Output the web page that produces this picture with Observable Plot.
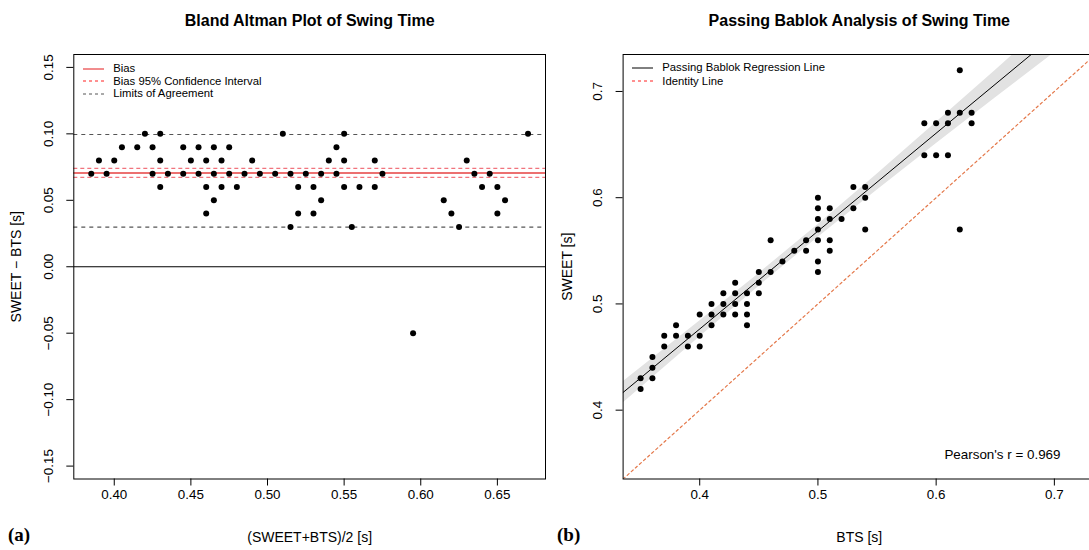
<!DOCTYPE html>
<html><head><meta charset="utf-8">
<script src="https://cdn.jsdelivr.net/npm/d3@7"></script>
<script src="https://cdn.jsdelivr.net/npm/@observablehq/plot@0.6"></script>
<style>
html,body{margin:0;padding:0;background:#fff;overflow:hidden;}
#wrap{position:relative;width:1089px;height:550px;overflow:hidden;font-family:"Liberation Sans",Arial,Helvetica,sans-serif;background:#fff;}
.panel{position:absolute;top:0;height:550px;}
.panel svg{max-width:none !important;}
.tag{position:absolute;font-family:"Liberation Serif","Times New Roman",serif;font-weight:bold;font-size:19px;line-height:20px;}
.leg{position:absolute;font-size:11.3px;line-height:12px;white-space:nowrap;}
</style></head><body><div id="wrap"></div>
<script>
// ---------- Bland Altman data ----------
const baMean = [0.385,0.39,0.395,0.40,0.405,0.415,0.42,0.425,0.425,0.43,0.43,0.43,0.435,0.445,0.445,0.45,0.455,0.455,0.46,0.46,0.46,0.465,0.465,0.465,0.47,0.47,0.475,0.475,0.48,0.485,0.49,0.495,0.505,0.51,0.515,0.515,0.52,0.52,0.525,0.53,0.53,0.535,0.535,0.54,0.545,0.545,0.55,0.55,0.55,0.555,0.56,0.57,0.57,0.575,0.595,0.615,0.62,0.625,0.63,0.635,0.64,0.645,0.65,0.65,0.655,0.67];
const baDiff = [0.07,0.08,0.07,0.08,0.09,0.09,0.10,0.09,0.07,0.10,0.08,0.06,0.07,0.09,0.07,0.08,0.09,0.07,0.08,0.06,0.04,0.09,0.07,0.05,0.08,0.06,0.09,0.07,0.06,0.07,0.08,0.07,0.07,0.10,0.07,0.03,0.06,0.04,0.07,0.06,0.04,0.07,0.05,0.08,0.09,0.07,0.10,0.08,0.06,0.03,0.06,0.08,0.06,0.07,-0.05,0.05,0.04,0.03,0.08,0.07,0.06,0.07,0.06,0.04,0.05,0.10];
const baBias = 0.0705;
const baBiasCI = [0.0672, 0.0740];
const baLoA = [0.0298, 0.0995];
const baXTicks = [0.40,0.45,0.50,0.55,0.60,0.65];
const baYTicks = [-0.15,-0.10,-0.05,0.00,0.05,0.10,0.15];
const baXDomain = [0.3736, 0.6814];
const baYDomain = [-0.1597, 0.1597];

// ---------- Passing Bablok data ----------
const pbBTS =   [0.35,0.35,0.36,0.36,0.36,0.37,0.37,0.38,0.38,0.39,0.39,0.40,0.40,0.40,0.41,0.41,0.41,0.42,0.42,0.42,0.43,0.43,0.43,0.43,0.44,0.44,0.44,0.44,0.45,0.45,0.45,0.46,0.46,0.47,0.48,0.49,0.49,0.50,0.50,0.50,0.50,0.50,0.50,0.50,0.51,0.51,0.51,0.51,0.52,0.53,0.53,0.54,0.54,0.54,0.59,0.59,0.60,0.60,0.61,0.61,0.61,0.62,0.62,0.62,0.63,0.63];
const pbSWEET = [0.43,0.42,0.45,0.44,0.43,0.47,0.46,0.48,0.47,0.47,0.46,0.49,0.47,0.46,0.50,0.49,0.48,0.51,0.50,0.49,0.52,0.51,0.50,0.49,0.51,0.50,0.49,0.48,0.53,0.52,0.51,0.56,0.53,0.54,0.55,0.56,0.55,0.60,0.59,0.58,0.57,0.56,0.54,0.53,0.59,0.58,0.56,0.55,0.58,0.61,0.59,0.61,0.60,0.57,0.67,0.64,0.67,0.64,0.68,0.67,0.64,0.72,0.68,0.57,0.68,0.67];
const pbIntercept = 0.1078;
const pbSlope = 0.9215;
const pbBandX    = [0.3352,0.40,0.45,0.50,0.55,0.60,0.65,0.70,0.7348];
const pbBandLow  = [0.4067,0.4689,0.5165,0.5626,0.6071,0.6507,0.6938,0.7364,0.7659];
const pbBandHigh = [0.4267,0.4839,0.5285,0.5746,0.6221,0.6707,0.7198,0.7694,0.8039];
const pbTicks = [0.4,0.5,0.6,0.7];
const pbDomain = [0.3352, 0.7348];
const pearson = "Pearson's r = 0.969";

const FONT = '"Liberation Sans",Arial,Helvetica,sans-serif';
const TICK = 13.4, LAB = 14, TITLE = 16;
const wrap = document.getElementById("wrap");

// ---------- Panel A ----------
const ba = baMean.map((m,i)=>({m, d: baDiff[i]}));
const plotA = Plot.plot({
  width: 560, height: 550,
  marginLeft: 73.3, marginRight: 15, marginTop: 54, marginBottom: 71.5,
  style: {fontFamily: FONT, fontSize: "12px", background: "white", color: "black"},
  x: {domain: baXDomain},
  y: {domain: baYDomain},
  marks: [
    Plot.ruleY(baLoA, {stroke: "#555", strokeWidth: 1.1, strokeDasharray: "4,4"}),
    Plot.ruleY(baBiasCI, {stroke: "#ee5c66", strokeWidth: 1.3, strokeDasharray: "4,3", strokeOpacity: 0.85}),
    Plot.ruleY([baBias], {stroke: "#ec7070", strokeWidth: 2}),
    Plot.ruleY([0], {stroke: "black", strokeWidth: 1}),
    Plot.dot(ba, {x: "m", y: "d", r: 3, fill: "black", stroke: "none"}),
    Plot.frame({stroke: "black", strokeWidth: 1}),
    Plot.axisX({ticks: baXTicks, tickSize: 7, tickPadding: 3.5, tickFormat: d3.format(".2f"), label: null, fontSize: TICK}),
    Plot.axisY({ticks: baYTicks, tickSize: 7, tickFormat: () => "", label: null}),
    Plot.text(baYTicks, {y: d => d, text: d3.format(".2f"), frameAnchor: "left", dx: -25, rotate: -90, textAnchor: "middle", lineAnchor: "middle", fontSize: TICK}),
    Plot.text(["Bland Altman Plot of Swing Time"], {frameAnchor: "top", dy: -34, textAnchor: "middle", lineAnchor: "middle", fontWeight: "bold", fontSize: TITLE}),
    Plot.text(["(SWEET+BTS)/2 [s]"], {frameAnchor: "bottom", dy: 58.5, textAnchor: "middle", lineAnchor: "middle", fontSize: LAB}),
    Plot.text(["SWEET \u2212 BTS [s]"], {frameAnchor: "left", dx: -57, rotate: -90, textAnchor: "middle", lineAnchor: "middle", fontSize: LAB})
  ]
});
const pa = document.createElement("div"); pa.className = "panel";
pa.style.left = "0px"; pa.style.width = "560px";
pa.appendChild(plotA); wrap.appendChild(pa);

// ---------- Panel B ----------
const pb = pbBTS.map((x,i)=>({x, y: pbSWEET[i]}));
const band = pbBandX.map((x,i)=>({x, lo: pbBandLow[i], hi: pbBandHigh[i]}));
const regLine = pbDomain.map(x => ({x, y: pbIntercept + pbSlope * x}));
const identity = pbDomain.map(v => ({x: v, y: v}));
const plotB = Plot.plot({
  width: 545, height: 550,
  marginLeft: 62.6, marginRight: 10, marginTop: 54, marginBottom: 71.5,
  style: {fontFamily: FONT, fontSize: "12px", background: "white", color: "black"},
  x: {domain: pbDomain},
  y: {domain: pbDomain},
  marks: [
    Plot.areaY(band, {x: "x", y1: "lo", y2: "hi", fill: "#e2e2e2", clip: true}),
    Plot.line(identity, {x: "x", y: "y", stroke: "#e4784a", strokeWidth: 1.2, strokeDasharray: "2.5,3", clip: true}),
    Plot.line(regLine, {x: "x", y: "y", stroke: "black", strokeWidth: 1, clip: true}),
    Plot.dot(pb, {x: "x", y: "y", r: 3, fill: "black", stroke: "none"}),
    Plot.frame({stroke: "black", strokeWidth: 1}),
    Plot.axisX({ticks: pbTicks, tickSize: 7, tickPadding: 3.5, tickFormat: d3.format(".1f"), label: null, fontSize: TICK}),
    Plot.axisY({ticks: pbTicks, tickSize: 7, tickFormat: () => "", label: null}),
    Plot.text(pbTicks, {y: d => d, text: d3.format(".1f"), frameAnchor: "left", dx: -25, rotate: -90, textAnchor: "middle", lineAnchor: "middle", fontSize: TICK}),
    Plot.text(["Passing Bablok Analysis of Swing Time"], {frameAnchor: "top", dy: -34, textAnchor: "middle", lineAnchor: "middle", fontWeight: "bold", fontSize: TITLE}),
    Plot.text(["BTS [s]"], {frameAnchor: "bottom", dy: 58.5, textAnchor: "middle", lineAnchor: "middle", fontSize: LAB}),
    Plot.text(["SWEET [s]"], {frameAnchor: "left", dx: -56, rotate: -90, textAnchor: "middle", lineAnchor: "middle", fontSize: LAB}),
    Plot.text([pearson], {frameAnchor: "bottom-right", dx: -35, dy: -24, textAnchor: "end", lineAnchor: "middle", fontSize: TICK})
  ]
});
const pbDiv = document.createElement("div"); pbDiv.className = "panel";
pbDiv.style.left = "560px"; pbDiv.style.width = "545px";
pbDiv.appendChild(plotB); wrap.appendChild(pbDiv);

// ---------- Legends ----------
function legend(left, top, rowH, items) {
  items.forEach((it, i) => {
    const y = top + i * rowH;
    const d = document.createElement("div");
    d.className = "leg";
    d.style.left = (left + 30.6) + "px";
    d.style.top = (y - 6.5) + "px";
    d.textContent = it.label;
    wrap.appendChild(d);
    const svg = document.createElementNS("http://www.w3.org/2000/svg", "svg");
    svg.setAttribute("width", 22); svg.setAttribute("height", 4);
    svg.style.position = "absolute";
    svg.style.left = left + "px"; svg.style.top = (y - 2) + "px";
    const ln = document.createElementNS("http://www.w3.org/2000/svg", "line");
    ln.setAttribute("x1", 0); ln.setAttribute("x2", 21); ln.setAttribute("y1", 2); ln.setAttribute("y2", 2);
    ln.setAttribute("stroke", it.color); ln.setAttribute("stroke-width", 1);
    if (it.dash) ln.setAttribute("stroke-dasharray", it.dash);
    svg.appendChild(ln);
    wrap.appendChild(svg);
  });
}
legend(82.7, 68.5, 12.5, [
  {label: "Bias", color: "#e41a1c"},
  {label: "Bias 95% Confidence Interval", color: "#ff2020", dash: "3,3"},
  {label: "Limits of Agreement", color: "#555", dash: "3,3"}
]);
legend(631.7, 67.5, 13.5, [
  {label: "Passing Bablok Regression Line", color: "black"},
  {label: "Identity Line", color: "#ff2020", dash: "3,3"}
]);

// ---------- Panel tags ----------
[["(a)", 8], ["(b)", 557]].forEach(([t, x]) => {
  const d = document.createElement("div"); d.className = "tag";
  d.style.left = x + "px"; d.style.top = "525px"; d.textContent = t;
  wrap.appendChild(d);
});
</script>
</body></html>
